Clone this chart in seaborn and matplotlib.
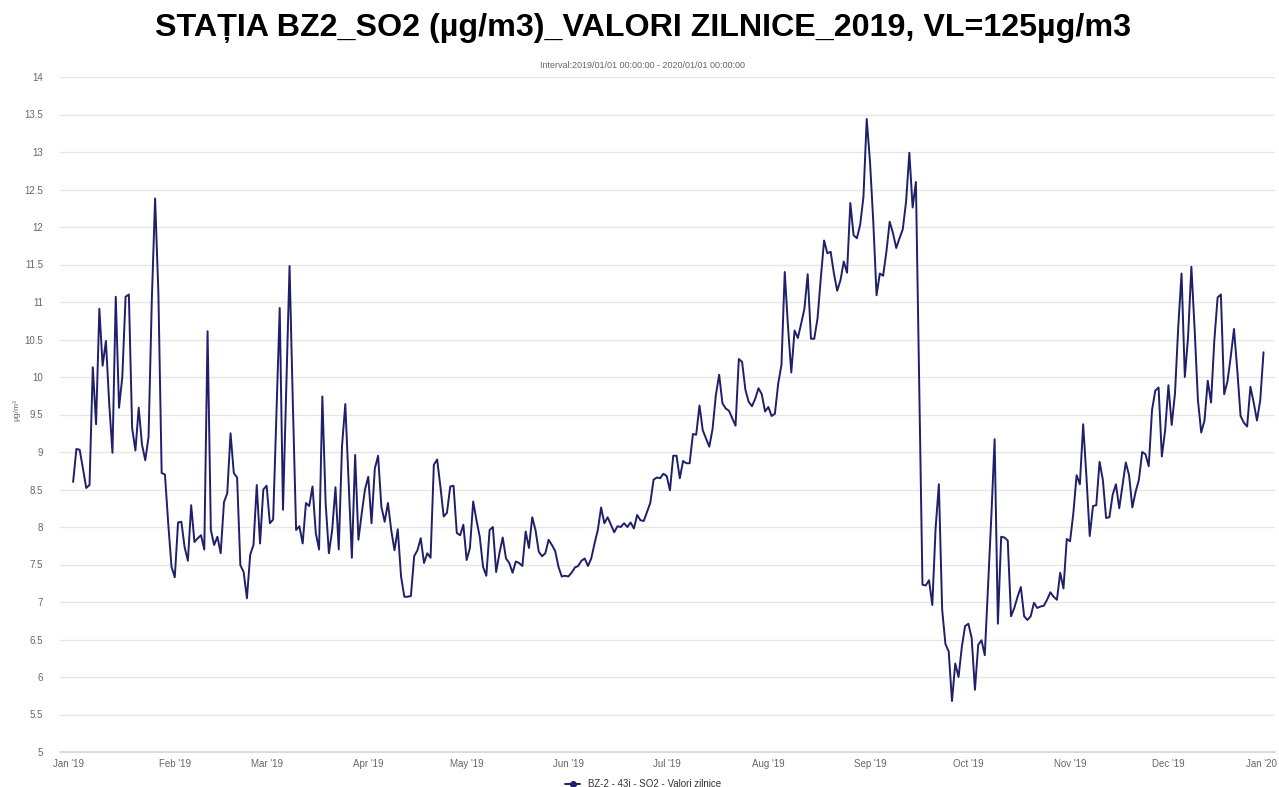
import numpy as np
import pandas as pd
import matplotlib
matplotlib.use("Agg")
import matplotlib.pyplot as plt
import matplotlib.dates as mdates
import matplotlib.transforms as mtransforms
from matplotlib.lines import Line2D
from matplotlib.ticker import MultipleLocator, FuncFormatter
import seaborn as sns

title = "STAȚIA BZ2_SO2 (µg/m3)_VALORI ZILNICE_2019, VL=125µg/m3"
subtitle = "Interval:2019/01/01 00:00:00 - 2020/01/01 00:00:00"
series_name = "BZ-2 - 43i - SO2 - Valori zilnice"
y_label = "µg/m³"

# daily SO2 values, in date order from 2019-01-01
so2_q1 = [8.60, 9.04, 9.03, 8.78, 8.52, 8.56, 10.13, 9.37, 10.91, 10.15, 10.48,
          9.65, 8.99, 11.07, 9.59, 10.0, 11.07, 11.1, 9.32, 9.02, 9.59,
          9.1, 8.89, 9.2, 11.03, 12.38, 11.12, 8.72, 8.7, 8.05, 7.47, 7.33,
          8.06, 8.07, 7.73, 7.55, 8.29, 7.8, 7.85, 7.89, 7.7, 10.61, 7.96, 7.76,
          7.87, 7.65, 8.33, 8.45, 9.25, 8.72, 8.66, 7.49, 7.4, 7.05, 7.63, 7.76,
          8.56, 7.78, 8.5, 8.55,
          8.05, 8.1, 9.52, 10.92, 8.23, 9.85, 11.48, 9.65, 7.96, 8.01, 7.78, 8.32,
          8.28, 8.54, 7.92, 7.7, 9.74, 8.32, 7.65, 7.96, 8.53, 7.7, 9.08, 9.64,
          8.62, 7.59, 8.96, 7.83, 8.18, 8.5, 8.67]
so2_q2 = [8.05, 8.78, 8.95, 8.27, 8.07, 8.32, 7.96, 7.69, 7.97, 7.34, 7.07, 7.07,
          7.08, 7.61, 7.69, 7.85, 7.52, 7.65, 7.59, 8.83, 8.9, 8.54, 8.14, 8.19,
          8.54, 8.55, 7.92, 7.89, 8.03, 7.56,
          7.72, 8.34, 8.09, 7.87, 7.47, 7.35, 7.96, 8.0, 7.4, 7.65, 7.86, 7.58,
          7.52, 7.39, 7.54, 7.52, 7.48, 7.94, 7.72, 8.13, 7.96, 7.67, 7.61, 7.65,
          7.83, 7.76, 7.68, 7.47, 7.34, 7.35, 7.34,
          7.39, 7.46, 7.48, 7.55, 7.58, 7.48, 7.58, 7.78, 7.96, 8.26, 8.05, 8.13,
          8.03, 7.93, 8.01, 8.0, 8.05, 8.0, 8.06, 7.98, 8.16, 8.09, 8.08, 8.2,
          8.32, 8.63, 8.66, 8.65, 8.71, 8.68]
so2_q3 = [8.49, 8.95, 8.95, 8.65, 8.88, 8.85, 8.85, 9.24, 9.23, 9.62, 9.29, 9.18,
          9.07, 9.31, 9.76, 10.03, 9.65, 9.58, 9.55, 9.45, 9.35, 10.24, 10.2, 9.83,
          9.67, 9.61, 9.71, 9.85, 9.77, 9.54, 9.6,
          9.48, 9.51, 9.91, 10.16, 11.4, 10.67, 10.06, 10.62, 10.52, 10.71, 10.91,
          11.37, 10.51, 10.51, 10.78, 11.32, 11.82, 11.65, 11.67, 11.38, 11.15,
          11.29, 11.54, 11.39, 12.32, 11.89, 11.85, 12.03, 12.4, 13.44, 12.87,
          12.07, 11.09, 11.38, 11.35, 11.67, 12.07, 11.92, 11.72, 11.85, 11.97,
          12.34, 12.99, 12.26, 12.6, 9.94, 7.23, 7.22, 7.29, 6.96, 7.98, 8.57]
so2_q4 = [6.9, 6.44, 6.34, 5.68, 6.18, 6.0, 6.4, 6.68, 6.71, 6.52, 5.83, 6.43,
          6.49, 6.29, 7.2, 8.14, 9.17, 6.71, 7.87, 7.86, 7.82, 6.81, 6.92, 7.07,
          7.2, 6.81, 6.76, 6.81, 6.99, 6.92, 6.94, 6.95, 7.03, 7.13, 7.07, 7.03,
          7.39, 7.18, 7.84, 7.81, 8.18, 8.69, 8.57, 9.37, 8.67, 7.88, 8.28, 8.29,
          8.87, 8.63, 8.12, 8.13, 8.43, 8.57, 8.25, 8.56, 8.86, 8.69, 8.26, 8.47,
          8.63, 9.0, 8.97, 8.81, 9.56, 9.82, 9.86, 8.94, 9.29, 9.89, 9.36, 9.78,
          10.67, 11.38, 10.0, 10.54, 11.47, 10.63, 9.69, 9.26, 9.42, 9.95, 9.66,
          10.49, 11.06, 11.1, 9.77, 9.94, 10.27, 10.64, 10.09, 9.48, 9.39, 9.34,
          9.87, 9.66, 9.42, 9.69, 10.33]

values = so2_q1 + so2_q2 + so2_q3 + so2_q4
df = pd.DataFrame({
    'date': pd.date_range('2019-01-01', periods=len(values), freq='D'),
    'so2': values,
})

line_color = '#1f1f6b'
label_color = '#666666'

sns.set_theme(style='white')
plt.rcParams['font.family'] = ['Liberation Sans', 'DejaVu Sans']

fig = plt.figure(figsize=(12.79, 7.87), dpi=100)
ax = fig.add_axes([60 / 1279, 1 - 752 / 787, 1215 / 1279, 675 / 787])

sns.lineplot(data=df, x='date', y='so2', ax=ax, color=line_color,
             linewidth=1.4, legend=False)

start = pd.Timestamp('2019-01-01')
ax.set_xlim(start - pd.Timedelta(days=4), start + pd.Timedelta(days=366.5))
ax.set_ylim(5, 14)

ax.yaxis.set_major_locator(MultipleLocator(0.5))
ax.yaxis.set_major_formatter(FuncFormatter(lambda v, p: f'{v:g}'))
ax.xaxis.set_major_locator(mdates.MonthLocator())
ax.xaxis.set_major_formatter(mdates.DateFormatter("%b '%y"))

ax.grid(axis='y', color='#e6e6e6', linewidth=1)
ax.grid(axis='x', visible=False)
for side in ['top', 'right', 'left']:
    ax.spines[side].set_visible(False)
ax.spines['bottom'].set_color('#ccd6eb')
ax.tick_params(axis='y', length=0, pad=12, labelsize=7, labelcolor=label_color)
ax.tick_params(axis='x', length=0, pad=5, labelsize=7, labelcolor=label_color)
ax.set_xlabel('')
ax.set_ylabel('')

# nudge the end labels inwards as in the original
fig.canvas.draw()
xlabels = ax.get_xticklabels()
shift_first = mtransforms.ScaledTranslation(-5 / 100, 0, fig.dpi_scale_trans)
shift_last = mtransforms.ScaledTranslation(-9 / 100, 0, fig.dpi_scale_trans)
xlabels[0].set_transform(xlabels[0].get_transform() + shift_first)
xlabels[-1].set_transform(xlabels[-1].get_transform() + shift_last)

fig.text(17 / 1279, 1 - 410 / 787, y_label, rotation=90, ha='center',
         va='center', fontsize=6, color=label_color)
fig.text(643 / 1279, 1 - 28 / 787, title, ha='center', va='center',
         fontsize=23.2, fontweight='bold', color='black')
fig.text(643 / 1279, 1 - 65 / 787, subtitle, ha='center', va='center',
         fontsize=6.5, color=label_color)

handle = Line2D([0], [0], color=line_color, linewidth=1.4, marker='o',
                markersize=4)
fig.legend([handle], [series_name], loc='center',
           bbox_to_anchor=(643 / 1279, 3 / 787), frameon=False, fontsize=7,
           handlelength=1.6, labelcolor='#333333')

fig.savefig('out.png', dpi=100)
